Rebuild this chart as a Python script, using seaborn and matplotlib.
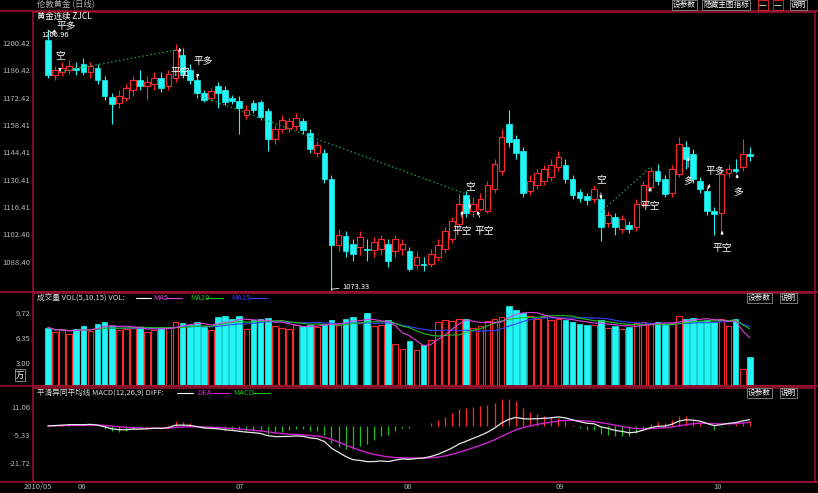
import numpy as np
import pandas as pd
import matplotlib
matplotlib.use("Agg")
import matplotlib.pyplot as plt
from matplotlib.lines import Line2D
import seaborn as sns

# ---------------- data ----------------
opens = [1201.9,1184.1,1185.7,1186.7,1187.7,1189.7,1185.7,1187.7,1181.6,1172.9,
1169.4,1172.4,1176.5,1181.6,1178.5,1179.5,1182.6,1178.5,1182.6,1194.3,
1186.7,1181.6,1175.0,1172.4,1178.5,1176.5,1172.4,1170.9,1163.3,1169.4,
1169.9,1165.3,1151.0,1156.1,1156.6,1157.7,1160.2,1154.1,1143.9,1143.9,
1130.7,1097.0,1101.7,1097.6,1096.0,1095.0,1094.5,1095.0,1097.6,1094.0,
1095.0,1094.0,1086.9,1087.4,1087.4,1091.0,1095.0,1100.1,1107.8,1122.5,
1114.4,1115.4,1114.4,1125.6,1134.7,1158.7,1151.0,1144.9,1124.6,1127.6,
1129.7,1131.7,1136.8,1137.8,1130.7,1124.1,1122.0,1120.5,1120.5,1108.3,
1111.3,1105.2,1107.3,1106.3,1117.9,1126.6,1134.7,1130.7,1123.5,1133.2,
1147.0,1143.4,1129.7,1124.6,1114.4,1113.4,1133.7,1135.8,1136.8,1143.4]

closes = [1184.1,1186.7,1187.7,1188.7,1186.7,1185.7,1188.7,1181.6,1173.4,1168.9,
1173.4,1177.5,1181.6,1178.5,1180.6,1182.6,1177.5,1184.6,1196.9,1184.6,
1181.6,1174.5,1171.4,1176.0,1175.0,1169.9,1170.9,1167.3,1166.3,1166.3,
1162.7,1151.0,1156.1,1160.7,1160.2,1162.2,1155.6,1145.9,1148.0,1130.7,
1097.0,1102.2,1094.0,1092.5,1101.2,1094.5,1098.6,1100.1,1088.9,1100.1,
1097.6,1084.9,1091.0,1086.9,1092.5,1097.0,1104.2,1109.3,1117.9,1113.4,
1117.9,1120.5,1127.6,1138.3,1152.1,1149.5,1143.9,1123.5,1129.7,1133.7,
1135.8,1137.8,1141.9,1130.7,1122.5,1121.0,1120.0,1125.6,1106.3,1112.4,
1106.3,1110.3,1105.2,1117.9,1127.6,1134.7,1129.7,1123.0,1135.8,1148.5,
1140.9,1130.7,1125.6,1114.4,1112.9,1133.2,1135.8,1134.7,1143.4,1142.4]

highs = [1206.96,1188.7,1190.7,1191.8,1190.7,1192.8,1190.7,1189.7,1183.6,1174.5,
1176.5,1179.5,1183.6,1186.7,1183.6,1185.7,1185.7,1186.7,1199.9,1197.9,
1189.7,1183.6,1176.5,1177.5,1180.6,1178.5,1173.9,1173.4,1168.4,1171.4,
1171.4,1167.3,1158.2,1163.3,1162.2,1164.3,1162.2,1156.1,1150.0,1145.9,
1132.7,1105.2,1104.2,1100.1,1104.2,1100.1,1101.2,1102.2,1100.1,1102.2,
1100.1,1096.0,1094.0,1091.0,1095.0,1100.1,1106.3,1111.3,1123.0,1124.6,
1121.5,1123.5,1129.7,1140.9,1156.1,1166.3,1153.1,1147.0,1132.7,1135.8,
1137.8,1140.9,1144.9,1140.9,1132.7,1125.6,1123.5,1127.6,1122.5,1114.4,
1113.4,1112.4,1109.3,1120.5,1129.7,1136.8,1138.3,1132.7,1137.8,1152.1,
1150.0,1145.9,1131.7,1126.6,1116.4,1135.8,1138.3,1140.9,1151.0,1146.9]

lows = [1182.6,1181.6,1183.6,1184.6,1184.1,1184.1,1182.6,1179.5,1171.4,1158.7,
1167.3,1170.4,1173.4,1176.5,1171.4,1176.5,1175.5,1176.5,1180.6,1182.6,
1179.5,1172.4,1169.9,1170.4,1167.3,1168.4,1168.9,1153.6,1161.2,1164.3,
1160.7,1144.9,1148.5,1154.1,1154.6,1155.6,1153.6,1143.9,1141.9,1128.6,
1073.33,1094.0,1091.0,1088.9,1092.0,1088.9,1091.0,1092.0,1085.9,1091.0,
1092.0,1083.9,1084.9,1083.9,1085.9,1088.9,1093.0,1098.1,1106.3,1111.3,
1111.3,1114.4,1113.4,1123.5,1132.7,1147.0,1140.9,1121.5,1122.5,1125.6,
1127.6,1129.7,1134.7,1128.6,1120.5,1119.0,1117.4,1118.5,1099.1,1106.3,
1102.2,1103.2,1103.2,1104.2,1116.4,1124.6,1127.6,1121.5,1121.5,1131.7,
1135.8,1128.6,1123.5,1112.4,1102.2,1102.2,1131.7,1133.7,1134.7,1139.8]

volumes = [7.8,7.2,7.5,7.0,7.6,8.0,7.4,8.3,8.5,8.0,
7.5,7.6,7.8,7.9,7.2,7.5,7.7,7.9,8.6,8.4,
8.2,8.6,7.9,7.5,9.2,9.3,9.0,9.4,7.6,8.8,
9.0,9.1,8.0,7.8,7.6,8.2,8.0,8.2,7.9,8.3,
8.8,8.1,9.0,9.2,8.4,9.7,8.0,8.1,8.8,5.6,
5.0,6.0,4.8,5.5,6.2,8.6,8.8,8.7,9.0,8.9,
7.8,8.0,8.7,9.0,9.2,10.7,10.1,9.7,9.3,9.0,
9.2,8.8,8.9,8.8,8.6,8.3,8.2,8.1,8.8,7.8,
8.0,7.6,7.9,8.4,8.6,8.3,8.5,8.2,8.4,9.3,
9.0,9.1,8.7,8.8,8.6,8.9,8.0,9.0,2.3,3.9]

price_ticks = [1088.40, 1102.40, 1116.41, 1130.41, 1144.41, 1158.41, 1172.42, 1186.42, 1200.42]
vol_ticks = [3.00, 6.35, 9.72]
macd_ticks = [11.06, -5.33, -21.72]
month_pos = [-1.4, 4.8, 27.1, 50.8, 72.2, 94.5]
month_labels = ["2010/05", "06", "07", "08", "09", "10"]

# trading signals: text, text position (idx, price), arrow tip (idx, price)
sig_text = ["平多", "空", "平空", "平多", "空", "平空", "平空", "空", "平空", "多", "平多", "平空", "多"]
sig_tx = [2.6, 1.7, 18.6, 21.9, 59.5, 58.4, 61.5, 78.0, 84.9, 90.3, 94.1, 95.1, 97.3]
sig_ty = [1208.8, 1194.3, 1185.7, 1191.3, 1127.1, 1104.2, 1104.2, 1130.7, 1117.0, 1129.7, 1134.8, 1095.5, 1124.1]
sig_ax = [0.6, 1.7, 18.6, 21.0, 59.5, 58.4, 60.6, 78.0, 84.9, 90.3, 93.1, 95.1, 97.2]
sig_ay = [1205.8, 1185.7, 1197.9, 1182.6, 1115.4, 1114.4, 1114.4, 1120.5, 1126.6, 1141.9, 1125.6, 1104.2, 1133.2]

# zig-zag signal links
link_x = [[1.7, 18.3], [21.0, 59.0], [78.0, 85.0]]
link_y = [[1185.7, 1196.9], [1173.9, 1123.0], [1113.9, 1136.8]]

# ---------------- style ----------------
sns.set_theme(style="dark", rc={"axes.facecolor": "black", "figure.facecolor": "black",
                                "axes.grid": False})
plt.rcParams['font.family'] = ['Noto Sans CJK SC', 'DejaVu Sans']

RED = '#ff2828'
CYAN = '#22f5f5'
FRAME = '#96102e'
GRAY = '#b4b4b4'

W, H = 818, 493
def fx(x): return x / W
def fy(y): return 1 - y / H

fig = plt.figure(figsize=(W / 100, H / 100), dpi=100, facecolor='black')
L, R = 33, 815
ax1 = fig.add_axes([fx(L), fy(292), (R - L) / W, 280 / H])
ax2 = fig.add_axes([fx(L), fy(386), (R - L) / W, 93 / H])
ax3 = fig.add_axes([fx(L), fy(482), (R - L) / W, 94 / H])

n = len(closes)
idx = np.arange(n)
df = pd.DataFrame({"i": idx, "open": opens, "high": highs, "low": lows,
                   "close": closes, "vol": volumes})
df["up"] = df["close"] >= df["open"]

XL = (-2.1, 108.2)
for ax in (ax1, ax2, ax3):
    ax.set_facecolor('black')
    ax.set_xlim(*XL)
    for s in ax.spines.values():
        s.set_color(FRAME)
        s.set_linewidth(1.2)
    ax.tick_params(axis='both', length=0, colors=GRAY, labelsize=5.5, pad=2)

# ---------------- candles ----------------
bw = 0.8
for r in df.itertuples():
    top, bot = max(r.open, r.close), min(r.open, r.close)
    h = max(top - bot, 0.3)
    if r.up:
        ax1.vlines(r.i, top, r.high, color=RED, lw=0.8)
        ax1.vlines(r.i, r.low, bot, color=RED, lw=0.8)
        ax1.bar(r.i, h, bottom=bot, width=bw, facecolor='black', edgecolor=RED, linewidth=0.8)
    else:
        ax1.vlines(r.i, r.low, r.high, color=CYAN, lw=0.8)
        ax1.bar(r.i, h, bottom=bot, width=bw, facecolor=CYAN, edgecolor=CYAN, linewidth=0.5)

for xs, ys in zip(link_x, link_y):
    sns.lineplot(x=xs, y=ys, ax=ax1, color='#1fa050', lw=0.9, linestyle=(0, (1.2, 2.0)))

for t, tx, ty, axx, ayy in zip(sig_text, sig_tx, sig_ty, sig_ax, sig_ay):
    ax1.annotate(t, xy=(axx, ayy), xytext=(tx, ty), color='white', fontsize=7,
                 ha='center', va='center',
                 arrowprops=dict(arrowstyle='-|>', color='white', lw=0.6,
                                 mutation_scale=4, shrinkA=4, shrinkB=0))

imax = int(np.argmax(highs)); imin = int(np.argmin(lows))
ax1.annotate(f"{highs[imax]:.2f}", xy=(imax, highs[imax]), xytext=(-0.9, highs[imax] - 2.6),
             color='white', fontsize=5.5, ha='left', va='center',
             arrowprops=dict(arrowstyle='-', color='white', lw=0.6, shrinkA=0, shrinkB=0))
ax1.annotate(f"{lows[imin]:.2f}", xy=(imin, lows[imin] + 1.0), xytext=(imin + 1.5, lows[imin] + 2.3),
             color='white', fontsize=5.5, ha='left', va='center',
             arrowprops=dict(arrowstyle='-', color='white', lw=0.6, shrinkA=0, shrinkB=0))

ax1.set_ylim(1072.9, 1216.2)
ax1.set_yticks(price_ticks)
ax1.set_yticklabels([f"{v:.2f}" for v in price_ticks])
ax1.set_xticks([])
ax1.set_xlabel(""); ax1.set_ylabel("")

# ---------------- volume ----------------
for r in df.itertuples():
    if r.up:
        ax2.bar(r.i, r.vol, width=bw, facecolor='black', edgecolor=RED, linewidth=0.8)
    else:
        ax2.bar(r.i, r.vol, width=bw, facecolor=CYAN, edgecolor=CYAN, linewidth=0.5)
ma5 = df["vol"].rolling(5, min_periods=1).mean()
ma10 = df["vol"].rolling(10, min_periods=1).mean()
ma15 = df["vol"].rolling(15, min_periods=1).mean()
sns.lineplot(x=idx, y=ma15, ax=ax2, color='#3040ff', lw=0.8)
sns.lineplot(x=idx, y=ma10, ax=ax2, color='#20c020', lw=0.8)
sns.lineplot(x=idx, y=ma5, ax=ax2, color='#e040e0', lw=0.8)
ax2.set_ylim(0, 12.4)
ax2.set_yticks(vol_ticks)
ax2.set_yticklabels([f"{v:.2f}" for v in vol_ticks])
ax2.set_xticks([])
ax2.set_xlabel(""); ax2.set_ylabel("")

# ---------------- MACD ----------------
cs = df["close"]
ema12 = cs.ewm(span=12, adjust=False).mean()
ema26 = cs.ewm(span=26, adjust=False).mean()
diff = ema12 - ema26
dea = diff.ewm(span=9, adjust=False).mean()
macd = 2 * (diff - dea)
ax3.vlines(idx, 0, macd, colors=np.where(macd >= 0, RED, '#18c018'), lw=0.9)
sns.lineplot(x=idx, y=dea, ax=ax3, color='#d020d0', lw=1.0)
sns.lineplot(x=idx, y=diff, ax=ax3, color='#e8e8e8', lw=0.9)
ax3.set_ylim(-32.84, 22.18)
ax3.set_yticks(macd_ticks)
ax3.set_yticklabels([f"{v:.2f}" for v in macd_ticks])
ax3.set_xticks(month_pos)
ax3.set_xticklabels(month_labels)
ax3.tick_params(axis='x', pad=1)
ax3.set_xlabel(""); ax3.set_ylabel("")

# ---------------- chrome ----------------
for yy in (11, 292, 386, 482):
    fig.add_artist(Line2D([0, 1], [fy(yy), fy(yy)], color=FRAME, lw=1.2))

fig.text(fx(37), fy(5), "伦敦黄金 (日线)", color=GRAY, fontsize=6, va='center')
fig.text(fx(37), fy(16.5), "黄金连续 ZJCL", color='white', fontsize=6, va='center')

def btn(x, y, s, ec='#8a8a8a'):
    fig.text(fx(x), fy(y), s, color='white', fontsize=5.5, va='center', ha='left',
             bbox=dict(facecolor='black', edgecolor=ec, linewidth=0.6, pad=0.8))

btn(673, 5, "设参数"); btn(703, 5, "隐藏主图指标")
btn(759, 5, "一", ec=RED); btn(774, 5, "一", ec=RED); btn(791, 5, "说明")
btn(748, 298, "设参数"); btn(781, 298, "说明")
btn(748, 393, "设参数"); btn(781, 393, "说明")
fig.text(fx(16), fy(375), "万", color='white', fontsize=6, va='center',
         bbox=dict(facecolor='black', edgecolor='#9a9a9a', linewidth=0.6, pad=0.8))

# volume header
fig.text(fx(37), fy(298), "成交量 VOL(5,10,15) VOL:", color='#d8d8d8', fontsize=5.5, va='center')
fig.add_artist(Line2D([fx(136), fx(151)], [fy(298)] * 2, color='white', lw=0.8))
fig.text(fx(153), fy(298), "MA5", color='#e040e0', fontsize=5.5, va='center')
fig.add_artist(Line2D([fx(166), fx(182)], [fy(298)] * 2, color='#e040e0', lw=0.8))
fig.text(fx(190), fy(298), "MA10", color='#20c020', fontsize=5.5, va='center')
fig.add_artist(Line2D([fx(206), fx(223)], [fy(298)] * 2, color='#20c020', lw=0.8))
fig.text(fx(231), fy(298), "MA15", color='#3040ff', fontsize=5.5, va='center')
fig.add_artist(Line2D([fx(249), fx(267)], [fy(298)] * 2, color='#3040ff', lw=0.8))

# macd header
fig.text(fx(37), fy(393), "平滑异同平均线 MACD(12,26,9) DIFF:", color='#d8d8d8', fontsize=5.5, va='center')
fig.add_artist(Line2D([fx(177), fx(193)], [fy(393)] * 2, color='white', lw=0.8))
fig.text(fx(197), fy(393), "DEA", color='#d020d0', fontsize=5.5, va='center')
fig.add_artist(Line2D([fx(212), fx(230)], [fy(393)] * 2, color='#d020d0', lw=0.8))
fig.text(fx(233), fy(393), "MACD", color='#18c018', fontsize=5.5, va='center')
fig.add_artist(Line2D([fx(253), fx(270)], [fy(393)] * 2, color='#18c018', lw=0.8))

fig.savefig("out.png", dpi=100, facecolor='black')
